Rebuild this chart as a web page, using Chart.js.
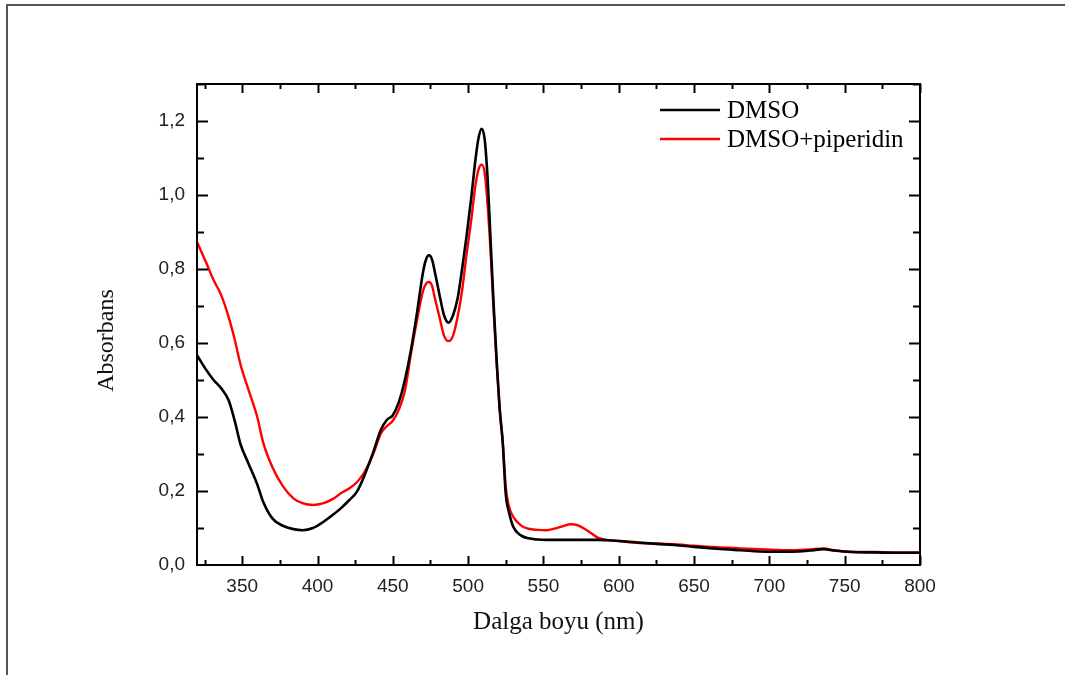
<!DOCTYPE html>
<html>
<head>
<meta charset="utf-8">
<title>Absorbans spektrumu</title>
<style>
  html, body { margin: 0; padding: 0; background: #ffffff; }
  #wrap { width: 1065px; height: 675px; position: relative; }
  canvas { display: block; }
</style>
<script src="https://cdn.jsdelivr.net/npm/chart.js@4.4.1/dist/chart.umd.min.js"></script>
</head>
<body>
<div id="wrap"><canvas id="c" width="1065" height="675"></canvas></div>
<script>
// Wavelength grid (nm) shared by both spectra
const wavelengths = [320, 326, 331, 336, 341, 345, 349, 354, 360, 364, 370, 377, 384, 390, 397, 404, 410, 416, 421, 426,
  431, 437, 442, 446, 450, 454, 458, 462, 466, 470, 472, 474, 476, 478, 481, 484, 487, 490, 493, 496,
  499, 502, 505, 507, 509, 511, 513, 515, 517, 519, 521, 523, 525, 527, 530, 535, 540, 546, 552, 558,
  563, 568, 573, 578, 582, 586, 592, 600, 612, 625, 637, 650, 665, 681, 698, 715, 727, 736, 743, 754,
  770, 785, 800];

// Absorbance in DMSO
const dmso = [0.567, 0.528, 0.500, 0.478, 0.445, 0.390, 0.325, 0.276, 0.218, 0.170, 0.126, 0.106, 0.097, 0.094, 0.100, 0.117, 0.135, 0.155, 0.175, 0.197,
  0.240, 0.305, 0.365, 0.392, 0.405, 0.440, 0.500, 0.580, 0.680, 0.790, 0.825, 0.837, 0.826, 0.790, 0.730, 0.675, 0.655, 0.675, 0.720, 0.800,
  0.890, 0.990, 1.100, 1.156, 1.179, 1.150, 1.040, 0.870, 0.700, 0.550, 0.420, 0.330, 0.190, 0.145, 0.103, 0.080, 0.072, 0.069, 0.068, 0.068,
  0.068, 0.068, 0.068, 0.068, 0.068, 0.068, 0.067, 0.065, 0.061, 0.057, 0.054, 0.049, 0.044, 0.040, 0.036, 0.036, 0.039, 0.043, 0.039, 0.035,
  0.034, 0.033, 0.033];

// Absorbance in DMSO + piperidin
const dmsoPiperidin = [0.873, 0.818, 0.770, 0.730, 0.670, 0.610, 0.540, 0.476, 0.400, 0.330, 0.265, 0.213, 0.180, 0.167, 0.162, 0.167, 0.178, 0.195, 0.207, 0.223,
  0.250, 0.300, 0.355, 0.375, 0.390, 0.420, 0.470, 0.570, 0.660, 0.740, 0.760, 0.765, 0.755, 0.720, 0.670, 0.620, 0.605, 0.620, 0.670, 0.742,
  0.840, 0.930, 1.030, 1.070, 1.082, 1.060, 0.970, 0.840, 0.680, 0.540, 0.420, 0.330, 0.210, 0.160, 0.130, 0.107, 0.098, 0.095, 0.094, 0.099,
  0.105, 0.110, 0.107, 0.096, 0.085, 0.074, 0.068, 0.065, 0.060, 0.058, 0.056, 0.052, 0.048, 0.045, 0.042, 0.040, 0.042, 0.045, 0.040, 0.036,
  0.035, 0.034, 0.034];

const seriesLabels = ['DMSO', 'DMSO+piperidin'];
const seriesColors = ['#000000', '#ff0000'];

// Axis ticks and titles
const xTickValues = [350, 400, 450, 500, 550, 600, 650, 700, 750, 800];
const yTickValues = [0, 0.2, 0.4, 0.6, 0.8, 1.0, 1.2];
const xMinorStep = 25;
const yMinorStep = 0.1;
const xTitle = 'Dalga boyu (nm)';
const yTitle = 'Absorbans';

const sansFont = "'Liberation Sans', Arial, sans-serif";
const serifFont = "'Liberation Serif', 'Times New Roman', serif";

function toPoints(xs, ys) {
  return xs.map((x, i) => ({ x: x, y: ys[i] }));
}

// Outer frame, axis box with inward ticks on all four sides, titles and legend
const decorations = {
  id: 'decorations',
  beforeDraw(chart) {
    const ctx = chart.ctx;
    ctx.save();
    ctx.fillStyle = '#ffffff';
    ctx.fillRect(0, 0, chart.width, chart.height);
    ctx.fillStyle = '#555555';
    ctx.fillRect(6, 4, chart.width - 6, 2);
    ctx.fillRect(6, 4, 2, chart.height - 4);
    ctx.restore();
  },
  afterDatasetsDraw(chart) {
    const ctx = chart.ctx;
    const area = chart.chartArea;
    const xs = chart.scales.x;
    const ys = chart.scales.y;
    ctx.save();
    ctx.strokeStyle = '#000000';
    ctx.lineWidth = 2;
    ctx.strokeRect(area.left, area.top, area.right - area.left, area.bottom - area.top);

    ctx.lineWidth = 2;
    ctx.beginPath();
    for (let v = xs.min + 5; v <= xs.max; v += xMinorStep) {
      const px = Math.round(xs.getPixelForValue(v)) + 0.5;
      const len = (v % 50 === 0) ? 9 : 5;
      ctx.moveTo(px, area.bottom); ctx.lineTo(px, area.bottom - len);
      ctx.moveTo(px, area.top); ctx.lineTo(px, area.top + len);
    }
    for (let i = 1; i * yMinorStep <= ys.max + 1e-9; i++) {
      const v = i * yMinorStep;
      const py = Math.round(ys.getPixelForValue(v)) + 0.5;
      const len = (i % 2 === 0) ? 11 : 7;
      ctx.moveTo(area.left, py); ctx.lineTo(area.left + len, py);
      ctx.moveTo(area.right, py); ctx.lineTo(area.right - len, py);
    }
    ctx.stroke();

    // Axis titles
    ctx.fillStyle = '#111111';
    ctx.textAlign = 'center';
    ctx.textBaseline = 'middle';
    ctx.font = '25px ' + serifFont;
    ctx.fillText(xTitle, (area.left + area.right) / 2, area.bottom + 57);
    ctx.save();
    ctx.translate(area.left - 90, (area.top + area.bottom) / 2 + 16);
    ctx.rotate(-Math.PI / 2);
    ctx.font = '24px ' + serifFont;
    ctx.fillText(yTitle, 0, 0);
    ctx.restore();

    // Legend in the upper right corner of the plot
    ctx.font = '25px ' + serifFont;
    ctx.textAlign = 'left';
    chart.data.datasets.forEach((ds, i) => {
      const y = area.top + 26 + i * 29;
      const x0 = area.right - 260;
      ctx.strokeStyle = ds.borderColor;
      ctx.lineWidth = 2.5;
      ctx.beginPath();
      ctx.moveTo(x0, y); ctx.lineTo(x0 + 60, y);
      ctx.stroke();
      ctx.fillStyle = '#000000';
      ctx.fillText(ds.label, x0 + 67, y + 1);
    });
    ctx.restore();
  }
};

new Chart(document.getElementById('c'), {
  type: 'line',
  data: {
    datasets: [
      { label: seriesLabels[0], data: toPoints(wavelengths, dmso), borderColor: seriesColors[0], borderWidth: 2.6,
        pointRadius: 0, fill: false, cubicInterpolationMode: 'monotone' },
      { label: seriesLabels[1], data: toPoints(wavelengths, dmsoPiperidin), borderColor: seriesColors[1], borderWidth: 2.4,
        pointRadius: 0, fill: false, cubicInterpolationMode: 'monotone' }
    ]
  },
  options: {
    responsive: false,
    animation: false,
    devicePixelRatio: 1,
    layout: { padding: { top: 84, right: 145, left: 0, bottom: 0 } },
    plugins: { legend: { display: false }, tooltip: { enabled: false } },
    scales: {
      x: {
        type: 'linear', min: 320, max: 800,
        afterBuildTicks(s) { s.ticks = xTickValues.map(v => ({ value: v })); },
        afterFit(s) { s.height = 110; },
        grid: { display: false, drawTicks: false },
        border: { display: false },
        ticks: { autoSkip: false, maxRotation: 0, padding: 10, color: '#222222',
          font: { family: sansFont, size: 19 }, callback: v => String(v) }
      },
      y: {
        type: 'linear', min: 0, max: 1.3,
        afterBuildTicks(s) { s.ticks = yTickValues.map(v => ({ value: v })); },
        afterFit(s) { s.width = 197; },
        grid: { display: false, drawTicks: false },
        border: { display: false },
        ticks: { autoSkip: false, padding: 12, color: '#222222',
          font: { family: sansFont, size: 19 }, callback: v => v.toFixed(1).replace('.', ',') }
      }
    }
  },
  plugins: [decorations]
});
</script>
</body>
</html>
